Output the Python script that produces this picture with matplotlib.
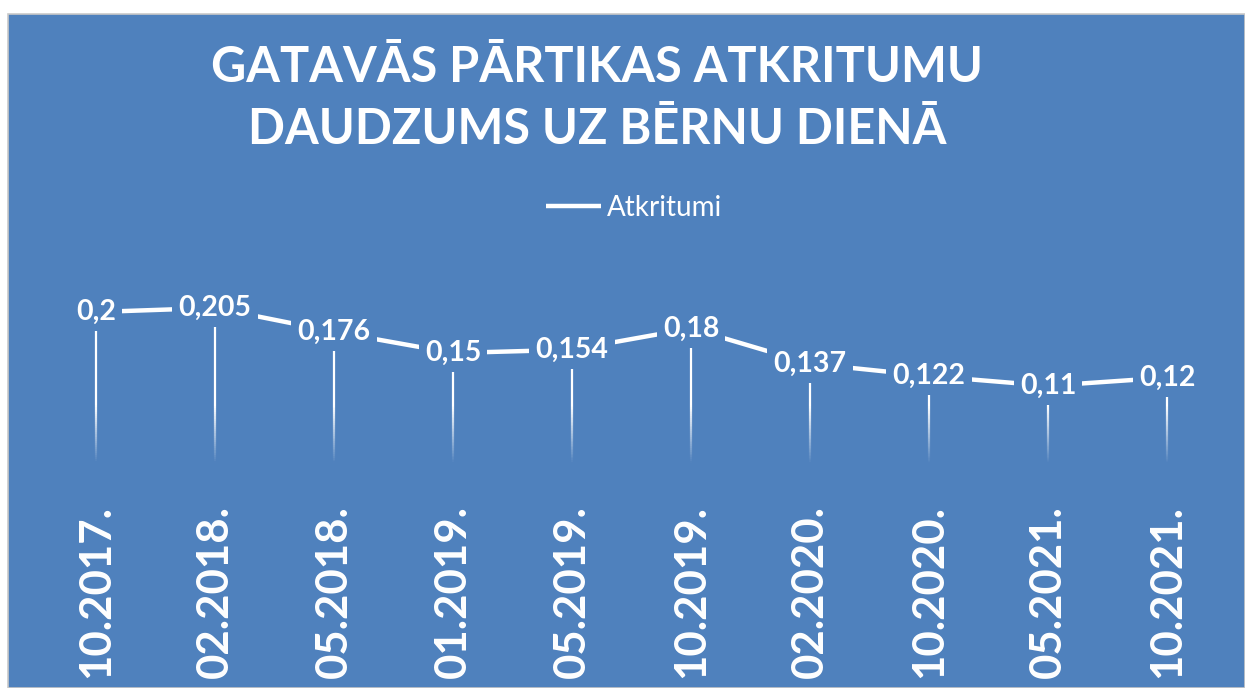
import matplotlib.pyplot as plt
import numpy as np
from matplotlib.patches import Rectangle
from matplotlib.collections import LineCollection

# waste per child per day, by survey month
periods = ["10.2017.", "02.2018.", "05.2018.", "01.2019.", "05.2019.",
           "10.2019.", "02.2020.", "10.2020.", "05.2021.", "10.2021."]
waste = [0.2, 0.205, 0.176, 0.15, 0.154, 0.18, 0.137, 0.122, 0.11, 0.12]
series_name = "Atkritumi"
title_lines = ["GATAVĀS PĀRTIKAS ATKRITUMU", "DAUDZUMS UZ BĒRNU DIENĀ"]

bg = "#4F81BD"
plt.rcParams['font.family'] = ['Lato', 'DejaVu Sans']

W, H = 1245, 688
fig = plt.figure(figsize=(W / 100, H / 100), dpi=100, facecolor="white")

# chart area panel
fig.patches.append(Rectangle((8 / W, 0), 1 - 8 / W, 1 - 14 / H, transform=fig.transFigure,
                             facecolor=bg, edgecolor="#c9c9c9", linewidth=1.2, zorder=-5))

ax = fig.add_axes([36.5 / W, 1 - 476 / H, 1190 / W, 205 / H])
ax.set_facecolor("none")
ax.set_xlim(-0.5, len(waste) - 0.5)
ax.set_ylim(0, 0.25)
for s in ax.spines.values():
    s.set_visible(False)
ax.set_yticks([])
ax.set_xticks(range(len(periods)), periods, rotation=90, fontsize=31.5,
              fontweight="bold", color="white")
ax.tick_params(axis="x", length=0, pad=21)

# drop lines, fading out toward the axis
fade_lo, fade_hi = 0.015, 0.085
for i, v in enumerate(waste):
    ys = np.linspace(0, v, 80)
    segs = [[(i, ys[k]), (i, ys[k + 1])] for k in range(len(ys) - 1)]
    alphas = np.clip((ys[:-1] - fade_lo) / (fade_hi - fade_lo), 0, 1)
    cols = [(1, 1, 1, a) for a in alphas]
    ax.add_collection(LineCollection(segs, colors=cols, linewidths=1.6, zorder=1))

line, = ax.plot(range(len(waste)), waste, color="white", linewidth=3.2,
                solid_capstyle="butt", zorder=2, label=series_name)

for i, v in enumerate(waste):
    ax.text(i, v, str(v).replace(".", ","), ha="center", va="center", fontsize=20.5,
            fontweight="bold", color="white", zorder=3,
            bbox=dict(boxstyle="square,pad=0.22", facecolor=bg, edgecolor="none"))

fig.legend(handles=[line], loc="center", bbox_to_anchor=(634 / W, 1 - 208 / H),
           frameon=False, fontsize=20, labelcolor="white", handlelength=2.0,
           handletextpad=0.2)

fig.text(597 / W, 1 - 67 / H, title_lines[0], ha="center", va="center", fontsize=35,
         fontweight="bold", color="white")
fig.text(597 / W, 1 - 130 / H, title_lines[1], ha="center", va="center", fontsize=35,
         fontweight="bold", color="white")

fig.savefig("out.png", dpi=100, facecolor="white")
